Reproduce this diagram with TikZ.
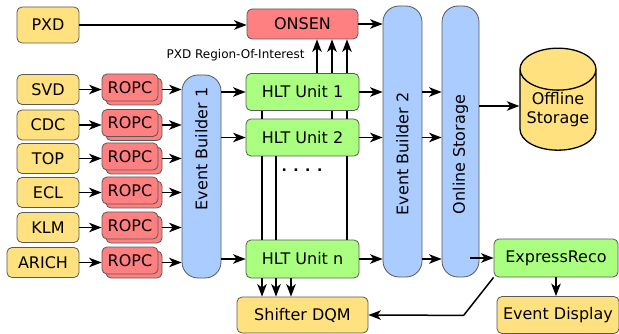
\documentclass[tikz,border=0pt]{standalone}
\usepackage{fontspec}
\setmainfont{DejaVu Sans}
\usetikzlibrary{arrows.meta,calc,shapes.geometric,shadows}
\definecolor{detyellow}{HTML}{FFE180}
\definecolor{roired}{HTML}{FF8080}
\definecolor{hltgreen}{HTML}{AAFF80}
\definecolor{ebblue}{HTML}{AACCFF}

\begin{document}
\begin{tikzpicture}[x=1pt,y=-1pt,
  box/.style={draw=black!65, line width=0.8pt, rounded corners=5pt, minimum width=62pt, minimum height=30pt, inner sep=0pt, font=\fontsize{16}{19}\selectfont},
  det/.style={box, fill=detyellow},
  ropc/.style={box, fill=roired, minimum width=56pt, minimum height=27pt, copy shadow={shadow xshift=4pt, shadow yshift=-4pt}},
  hlt/.style={box, fill=hltgreen, minimum width=113pt, minimum height=37pt},
  bar/.style={draw=black!65, line width=0.8pt, fill=ebblue, rounded corners=16pt, minimum width=39pt, inner sep=0pt},
  rot/.style={rotate=90, font=\fontsize{16}{19}\selectfont},
  flow/.style={-{Stealth[length=12.5pt,width=9.5pt,inset=3.5pt]}, line width=1.5pt},
  link/.style={line width=1.5pt}]
\useasboundingbox (0,0) rectangle (619,334);

% detectors and readout
\node[det, minimum height=36pt] (pxd) at (48,25) {PXD};
\node[det] (svd) at (48,89.5) {SVD};
\node[det] (cdc) at (48,125) {CDC};
\node[det] (top) at (48,158.5) {TOP};
\node[det] (ecl) at (48,192.5) {ECL};
\node[det] (klm) at (48,227.5) {KLM};
\node[det, minimum width=72pt] (arich) at (43,262.5) {ARICH};

\node[ropc] (ropc1) at (130,87.5) {ROPC};
\node[ropc] (ropc2) at (130,123) {ROPC};
\node[ropc] (ropc3) at (130,156.5) {ROPC};
\node[ropc] (ropc4) at (130,190.5) {ROPC};
\node[ropc] (ropc5) at (130,225.5) {ROPC};
\node[ropc] (ropc6) at (130,260.5) {ROPC};

% builders and storage
\node[bar, minimum height=203pt] (eb1) at (201.5,176.5) {};
\node[rot] (eb1txt) at ($(eb1.center)+(0,-27.5)$) {Event Builder 1};
\node[bar, minimum height=271pt] (eb2) at (402.5,141.5) {};
\node[rot] (eb2txt) at ($(eb2.center)+(0,12.5)$) {Event Builder 2};
\node[bar, minimum width=37pt, minimum height=271pt] (online) at (460.5,141.5) {};
\node[rot] (onlinetxt) at ($(online.center)+(0,13)$) {Online Storage};

% HLT farm
\node[box, fill=roired, minimum width=111pt] (onsen) at (302.5,24) {ONSEN};
\node[hlt] (hlt1) at (302.5,92) {HLT Unit 1};
\node[hlt] (hlt2) at (302.5,137.5) {HLT Unit 2};
\node[hlt, minimum height=38pt] (hltn) at (302.5,259) {HLT Unit n};
\node[font=\bfseries\fontsize{14}{17}\selectfont] (dots) at (302,170) {. . . .};
\node[anchor=east, font=\fontsize{12}{14}\selectfont] (roi) at (308,55) {PXD Region-Of-Interest};
\node[det, minimum width=131pt, minimum height=36pt] (dqm) at (302.5,315) {Shifter DQM};

\node[cylinder, shape border rotate=90, draw=black, line width=1.3pt, fill=detyellow, aspect=0.67,
  minimum width=76pt, minimum height=102pt, inner sep=0pt, align=center,
  font=\fontsize{16}{19}\selectfont] (offl) at (558,110) {Offline\\Storage};
\node[hlt, minimum width=124pt, minimum height=38pt] (express) at (556,258) {ExpressReco};
\node[det, minimum width=122pt, minimum height=37pt] (evd) at (558,315) {Event Display};

% data flow
\draw[flow] (pxd.east) -- (pxd.east -| onsen.west);
\draw[flow] (svd.east) -- (svd -| ropc1.west);
\draw[flow] (cdc.east) -- (cdc -| ropc2.west);
\draw[flow] (top.east) -- (top -| ropc3.west);
\draw[flow] (ecl.east) -- (ecl -| ropc4.west);
\draw[flow] (klm.east) -- (klm -| ropc5.west);
\draw[flow] (arich.east) -- (arich -| ropc6.west);
\draw[flow] ($(svd -| ropc1.east)+(4,0)$) -- (svd -| eb1.west);
\draw[flow] ($(cdc -| ropc2.east)+(4,0)$) -- (cdc -| eb1.west);
\draw[flow] ($(top -| ropc3.east)+(4,0)$) -- (top -| eb1.west);
\draw[flow] ($(ecl -| ropc4.east)+(4,0)$) -- (ecl -| eb1.west);
\draw[flow] ($(klm -| ropc5.east)+(4,0)$) -- (klm -| eb1.west);
\draw[flow] ($(arich -| ropc6.east)+(4,0)$) -- (arich -| eb1.west);

\draw[flow] (hlt1 -| eb1.east) -- (hlt1.west);
\draw[flow] (hlt2 -| eb1.east) -- (hlt2.west);
\draw[flow] (hltn -| eb1.east) -- (hltn.west);
\draw[flow] (hlt1.east) -- (hlt1 -| eb2.west);
\draw[flow] (hlt2.east) -- (hlt2 -| eb2.west);
\draw[flow] (hltn.east) -- (hltn -| eb2.west);
\draw[flow] (hlt1 -| eb2.east) -- (hlt1 -| online.west);
\draw[flow] (hlt2 -| eb2.east) -- (hlt2 -| online.west);
\draw[flow] (hltn -| eb2.east) -- (hltn -| online.west);
\draw[flow] (onsen.east) -- (onsen -| eb2.west);

\draw[flow] ([xshift=14.5pt]hlt1.north) -- ([xshift=14.5pt]onsen.south);
\draw[flow] ([xshift=29.5pt]hlt1.north) -- ([xshift=29.5pt]onsen.south);
\draw[flow] ([xshift=44.5pt]hlt1.north) -- ([xshift=44.5pt]onsen.south);

\draw[link] ([xshift=-40.5pt]hlt1.south) -- ([xshift=-40.5pt]hlt2.north);
\draw[link] ([xshift=29.5pt]hlt1.south) -- ([xshift=29.5pt]hlt2.north);
\draw[link] ([xshift=44.5pt]hlt1.south) -- ([xshift=44.5pt]hlt2.north);
\draw[link] ([xshift=-40.5pt]hlt2.south) -- ([xshift=-40.5pt]hltn.north);
\draw[link] ([xshift=-26.5pt]hlt2.south) -- ([xshift=-26.5pt]hltn.north);
\draw[link] ([xshift=44.5pt]hlt2.south) -- ([xshift=44.5pt]hltn.north);
\draw[flow] ([xshift=-40.5pt]hltn.south) -- ([xshift=-40.5pt]dqm.north);
\draw[flow] ([xshift=-26.5pt]hltn.south) -- ([xshift=-26.5pt]dqm.north);
\draw[flow] ([xshift=-11.5pt]hltn.south) -- ([xshift=-11.5pt]dqm.north);

\draw[flow] ([yshift=4pt]offl.west -| online.east) -- ([yshift=4pt]offl.west);
\draw[flow] ([xshift=-9pt]online.east |- express.west) -- (express.west);
\draw[flow] (express.south) -- (express.south |- evd.north);
\draw[flow] (express.south west) -- ++(-30,38) -- (dqm.east);

\end{tikzpicture}
\end{document}
